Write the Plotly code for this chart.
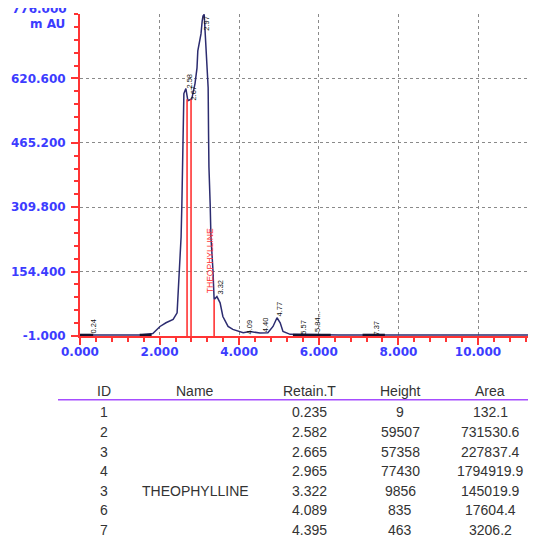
import plotly.graph_objects as go

# ---------------- data ----------------
rt = [0.0, 0.33, 1.50, 1.83, 2.01, 2.16, 2.34, 2.44, 2.46, 2.51, 2.54, 2.56, 2.58, 2.59, 2.61,
      2.66, 2.71, 2.76, 2.81, 2.89, 2.94, 2.96, 3.04, 3.07, 3.09, 3.12, 3.14, 3.17, 3.19, 3.22,
      3.23, 3.24, 3.27, 3.29, 3.34, 3.37, 3.44, 3.52, 3.59, 3.72, 3.84, 4.10, 4.27, 4.52, 4.72,
      4.85, 4.95, 5.03, 5.10, 5.28, 6.50, 8.00, 10.00, 11.70]
signal = [1.5, 1.5, 1.5, 5, 22, 31, 39, 55, 94, 159, 238, 319, 399, 512, 584,
          596, 567, 569, 572, 608, 646, 687, 728, 759, 771, 775, 742, 704, 646, 598,
          487, 406, 319, 238, 159, 87, 94, 79, 46, 22, 15, 7, 10, 6, 7,
          22, 43, 31, 10, 3, 1.5, 1.5, 1.5, 1.5]

baseline_marks = [(0.0, 0.33), (1.50, 1.80), (5.35, 6.30), (7.10, 7.66)]

marker_rt = [2.69, 2.79, 3.37]
marker_top = [570, 570, 87]

peak_labels = ["0.24", "2.58", "2.67", "2.97", "3.32", "4.09", "4.40", "4.77", "5.57", "5.84...", "7.37"]
peak_label_x = [0.35, 2.76, 2.86, 3.19, 3.54, 4.27, 4.67, 5.00, 5.63, 5.98, 7.46]
peak_label_y = [24, 615, 586, 755, 118, 22, 27, 63, 19, 33, 19]

compound_name = "THEOPHYLLINE"
compound_x = 3.27
compound_y = 180

y_ticks = [-1.0, 154.4, 309.8, 465.2, 620.6]
y_top = 776.0
x_ticks = [0, 2, 4, 6, 8, 10]

tbl_headers = ["ID", "Name", "Retain.T", "Height", "Area"]
tbl_id = ["1", "2", "3", "4", "3", "6", "7"]
tbl_name = ["", "", "", "", "THEOPHYLLINE", "", ""]
tbl_rt = ["0.235", "2.582", "2.665", "2.965", "3.322", "4.089", "4.395"]
tbl_height = ["9", "59507", "57358", "77430", "9856", "835", "463"]
tbl_area = ["132.1", "731530.6", "227837.4", "1794919.9", "145019.9", "17604.4", "3206.2"]

# ---------------- layout geometry ----------------
W, H = 536, 540
OFF = 8                      # page body margin of the browser
ML, MR, MT, MB = 72, 0, 5.5, 211.5
PW = W - ML - MR
PH = H - MT - MB
XMAX = PW / 39.8

def px_x(p):
    return (p - OFF - ML) / PW

def px_y(p):
    return (H - MB - (p - OFF)) / PH

RED = "#ff3434"
BLUE = "#3c3cff"
NAVY = "#2c2c70"

fig = go.Figure()

fig.add_trace(go.Scatter(x=rt, y=signal, mode="lines",
                         line=dict(color=NAVY, width=1.5), hoverinfo="skip"))

for a, b in baseline_marks:
    fig.add_trace(go.Scatter(x=[a, b], y=[1.5, 1.5], mode="lines",
                             line=dict(color="#141432", width=2.5), hoverinfo="skip"))

for xr, yt in zip(marker_rt, marker_top):
    fig.add_trace(go.Scatter(x=[xr, xr], y=[-1, yt], mode="lines",
                             line=dict(color=RED, width=1.6), hoverinfo="skip"))

annotations = []
for t, xx, yy in zip(peak_labels, peak_label_x, peak_label_y):
    annotations.append(dict(x=xx, y=yy, xref="x", yref="y", text=t, showarrow=False,
                            textangle=-90, font=dict(family="Liberation Sans", size=7.5, color="#111111")))
annotations.append(dict(x=compound_x, y=compound_y, xref="x", yref="y", text=compound_name,
                        showarrow=False, textangle=-90,
                        font=dict(family="Liberation Sans", size=8.5, color=RED)))

annotations.append(dict(x=0, y=1, xref="paper", yref="paper", xanchor="right", yanchor="middle",
                        xshift=-11, yshift=5, text=f"{y_top:.3f}", showarrow=False,
                        font=dict(family="DejaVu Sans", size=12, color=BLUE, weight="bold")))
annotations.append(dict(x=0, y=1, xref="paper", yref="paper", xanchor="right", yanchor="middle",
                        xshift=-13, yshift=-10, text="m AU", showarrow=False,
                        font=dict(family="DejaVu Sans", size=12, color=BLUE, weight="bold")))

col_px = [104, 195, 309, 400, 490]
header_py = 392
row_py0 = 413
row_step = 19.7
tfont = dict(family="Liberation Sans", size=14, color="#333333")
for cx, htxt in zip(col_px, tbl_headers):
    annotations.append(dict(x=px_x(cx), y=px_y(header_py), xref="paper", yref="paper",
                            text=htxt, showarrow=False, xanchor="center", yanchor="middle", font=tfont))
cols = [tbl_id, tbl_name, tbl_rt, tbl_height, tbl_area]
for ci, col in enumerate(cols):
    for ri, val in enumerate(col):
        if not val:
            continue
        annotations.append(dict(x=px_x(col_px[ci]), y=px_y(row_py0 + ri * row_step),
                                xref="paper", yref="paper", text=val, showarrow=False,
                                xanchor="center", yanchor="middle", font=tfont))

shapes = [dict(type="line", xref="paper", yref="paper", x0=px_x(58), x1=px_x(550),
               y0=px_y(400.5), y1=px_y(400.5), line=dict(color="#a64dff", width=1.5))]

y_minor = [round(-1 + 31.08 * i, 2) for i in range(26)]

fig.update_layout(
    width=W, height=H,
    margin=dict(l=ML, r=MR, t=MT, b=MB),
    paper_bgcolor="white", plot_bgcolor="white",
    showlegend=False,
    annotations=annotations, shapes=shapes,
    xaxis=dict(range=[0, XMAX], tickmode="array", tickvals=x_ticks,
               ticktext=[f"{v:.3f}" for v in x_ticks],
               showline=True, linecolor=RED, linewidth=2, zeroline=False,
               ticks="outside", ticklen=7, tickwidth=2, tickcolor=RED,
               showgrid=True, gridcolor="#8a8a8a", gridwidth=1, griddash="dot",
               tickfont=dict(family="DejaVu Sans", size=12, color=BLUE, weight="bold"),
               ticklabelstandoff=-3,
               minor=dict(dtick=0.4, tick0=0, ticks="outside", ticklen=4, tickwidth=1.5,
                          tickcolor=RED, showgrid=False),
               layer="below traces", fixedrange=True),
    yaxis=dict(range=[-1, y_top], tickmode="array", tickvals=y_ticks,
               ticktext=[f"{v:.3f}" for v in y_ticks],
               showline=True, linecolor=RED, linewidth=2, zeroline=False,
               ticks="outside", ticklen=7, tickwidth=2, tickcolor=RED,
               showgrid=True, gridcolor="#8a8a8a", gridwidth=1, griddash="dot",
               tickfont=dict(family="DejaVu Sans", size=12, color=BLUE, weight="bold"),
               ticklabelstandoff=3,
               minor=dict(tickmode="array", tickvals=y_minor, ticks="outside", ticklen=4,
                          tickwidth=1.5, tickcolor=RED, showgrid=False),
               layer="below traces", fixedrange=True),
)

fig.write_html("out.html")
